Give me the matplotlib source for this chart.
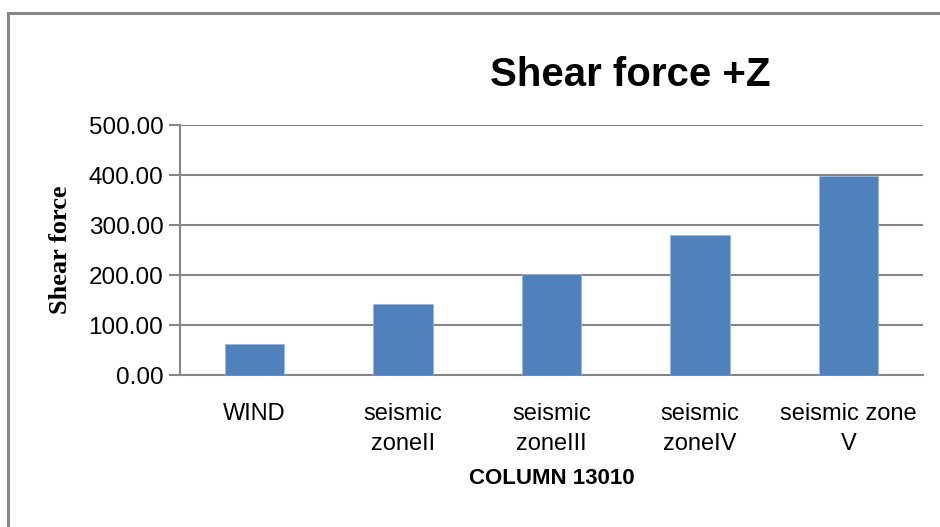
import matplotlib
matplotlib.use("Agg")
import matplotlib.pyplot as plt
import matplotlib.patches as patches
from matplotlib import font_manager

categories = ['WIND', 'seismic\nzoneII', 'seismic\nzoneIII', 'seismic\nzoneIV', 'seismic zone\nV']
shear = [63.0, 143.0, 202.0, 280.0, 399.0]
yticks = [0, 100, 200, 300, 400, 500]

names = {f.name for f in font_manager.fontManager.ttflist}
narrow = 'Liberation Sans Narrow' if 'Liberation Sans Narrow' in names else 'Liberation Sans'

plt.rcParams['font.family'] = [narrow, 'DejaVu Sans']

W, H = 940, 527
fig = plt.figure(figsize=(W / 100, H / 100), dpi=100)

# outer chart border (only left/top visible, rest is cropped)
fig.add_artist(patches.Rectangle((8 / W, -0.1), 1.2, 1 - 13 / H + 0.1,
                                 transform=fig.transFigure, fill=False,
                                 edgecolor='#868686', linewidth=2.2))

ax = fig.add_axes([180 / W, 1 - 375 / H, (923 - 180) / W, (375 - 125) / H])
x = range(len(categories))
ax.bar(x, shear, width=0.4, color='#4f81bd', edgecolor='#9bb8dd', linewidth=0.6, zorder=3)

ax.set_xlim(-0.5, len(categories) - 0.5)
ax.set_ylim(0, 500)
ax.set_yticks(yticks)
ax.set_yticklabels(['%.2f' % v for v in yticks])
ax.set_xticks(list(x))
ax.set_xticklabels(categories, linespacing=1.5)

ax.yaxis.grid(True, color='#868686', linewidth=1.5, zorder=0)
for s in ['top', 'right']:
    ax.spines[s].set_visible(False)
ax.spines['left'].set_color('#868686')
ax.spines['bottom'].set_color('#868686')
ax.spines['left'].set_linewidth(1.5)
ax.spines['bottom'].set_linewidth(1.5)
ax.tick_params(axis='y', length=8, width=1.5, color='#868686', labelsize=17.5, pad=4)
ax.tick_params(axis='x', length=0, labelsize=17, pad=20)

ax.set_xlabel('COLUMN 13010', fontsize=16, fontweight='bold', labelpad=9)
ax.set_ylabel('Shear force', fontsize=19, fontweight='bold',
              family=['Liberation Serif', 'DejaVu Serif'], labelpad=12)

fig.text(630 / W, 1 - 75 / H, 'Shear force +Z', fontsize=29, fontweight='bold',
         ha='center', va='center')

fig.savefig('out.png', dpi=100)
